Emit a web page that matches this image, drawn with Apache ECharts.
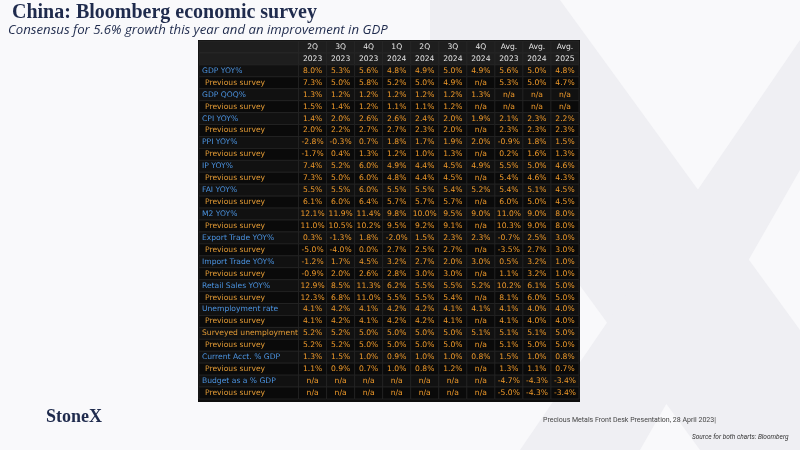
<!DOCTYPE html>
<html><head><meta charset="utf-8">
<script src="https://cdn.jsdelivr.net/npm/echarts@6/dist/echarts.min.js"></script>
<style>html,body{margin:0;padding:0;background:#fff}#c{width:800px;height:450px}</style>
</head><body><div id="c"></div>
<script>
const colTop = ['2Q','3Q','4Q','1Q','2Q','3Q','4Q','Avg.','Avg.','Avg.'];
const colBottom = ['2023','2023','2023','2024','2024','2024','2024','2023','2024','2025'];
const rowLabels = ['GDP YOY%','Previous survey','GDP QOQ%','Previous survey','CPI YOY%','Previous survey','PPI YOY%','Previous survey','IP YOY%','Previous survey','FAI YOY%','Previous survey','M2 YOY%','Previous survey','Export Trade YOY%','Previous survey','Import Trade YOY%','Previous survey','Retail Sales YOY%','Previous survey','Unemployment rate','Previous survey','Surveyed unemployment','Previous survey','Current Acct. % GDP','Previous survey','Budget as a % GDP','Previous survey'];
const values = [
['8.0%','5.3%','5.6%','4.8%','4.9%','5.0%','4.9%','5.6%','5.0%','4.8%'],
['7.3%','5.0%','5.8%','5.2%','5.0%','4.9%','n/a','5.3%','5.0%','4.7%'],
['1.3%','1.2%','1.2%','1.2%','1.2%','1.2%','1.3%','n/a','n/a','n/a'],
['1.5%','1.4%','1.2%','1.1%','1.1%','1.2%','n/a','n/a','n/a','n/a'],
['1.4%','2.0%','2.6%','2.6%','2.4%','2.0%','1.9%','2.1%','2.3%','2.2%'],
['2.0%','2.2%','2.7%','2.7%','2.3%','2.0%','n/a','2.3%','2.3%','2.3%'],
['-2.8%','-0.3%','0.7%','1.8%','1.7%','1.9%','2.0%','-0.9%','1.8%','1.5%'],
['-1.7%','0.4%','1.3%','1.2%','1.0%','1.3%','n/a','0.2%','1.6%','1.3%'],
['7.4%','5.2%','6.0%','4.9%','4.4%','4.5%','4.9%','5.5%','5.0%','4.6%'],
['7.3%','5.0%','6.0%','4.8%','4.4%','4.5%','n/a','5.4%','4.6%','4.3%'],
['5.5%','5.5%','6.0%','5.5%','5.5%','5.4%','5.2%','5.4%','5.1%','4.5%'],
['6.1%','6.0%','6.4%','5.7%','5.7%','5.7%','n/a','6.0%','5.0%','4.5%'],
['12.1%','11.9%','11.4%','9.8%','10.0%','9.5%','9.0%','11.0%','9.0%','8.0%'],
['11.0%','10.5%','10.2%','9.5%','9.2%','9.1%','n/a','10.3%','9.0%','8.0%'],
['0.3%','-1.3%','1.8%','-2.0%','1.5%','2.3%','2.3%','-0.7%','2.5%','3.0%'],
['-5.0%','-4.0%','0.0%','2.7%','2.5%','2.7%','n/a','-3.5%','2.7%','3.0%'],
['-1.2%','1.7%','4.5%','3.2%','2.7%','2.0%','3.0%','0.5%','3.2%','1.0%'],
['-0.9%','2.0%','2.6%','2.8%','3.0%','3.0%','n/a','1.1%','3.2%','1.0%'],
['12.9%','8.5%','11.3%','6.2%','5.5%','5.5%','5.2%','10.2%','6.1%','5.0%'],
['12.3%','6.8%','11.0%','5.5%','5.5%','5.4%','n/a','8.1%','6.0%','5.0%'],
['4.1%','4.2%','4.1%','4.2%','4.2%','4.1%','4.1%','4.1%','4.0%','4.0%'],
['4.1%','4.2%','4.1%','4.2%','4.2%','4.1%','n/a','4.1%','4.0%','4.0%'],
['5.2%','5.2%','5.0%','5.0%','5.0%','5.0%','5.1%','5.1%','5.1%','5.0%'],
['5.2%','5.2%','5.0%','5.0%','5.0%','5.0%','n/a','5.1%','5.0%','5.0%'],
['1.3%','1.5%','1.0%','0.9%','1.0%','1.0%','0.8%','1.5%','1.0%','0.8%'],
['1.1%','0.9%','0.7%','1.0%','0.8%','1.2%','n/a','1.3%','1.1%','0.7%'],
['n/a','n/a','n/a','n/a','n/a','n/a','n/a','-4.7%','-4.3%','-3.4%'],
['n/a','n/a','n/a','n/a','n/a','n/a','n/a','-5.0%','-4.3%','-3.4%']
];
const LABEL_W = 3.55;
const cells = [];
for (let c = 0; c < colTop.length; c++) {
  cells.push([c, 0, colTop[c], 'h']);
  cells.push([c, 1, colBottom[c], 'h']);
}
cells.push([-1, 0, '', 'h']); cells.push([-1, 1, '', 'h']);
for (let r = 0; r < rowLabels.length; r++) {
  const lab = rowLabels[r];
  const t = lab === 'Previous survey' ? 'lp' : (lab === 'Surveyed unemployment' ? 'lo' : 'lb');
  cells.push([-1, r + 2, lab, t]);
  for (let c = 0; c < 10; c++) cells.push([c, r + 2, values[r][c], 'v']);
}
const chart = echarts.init(document.getElementById('c'));
const navy = '#1f2b4d';
chart.setOption({
  backgroundColor: '#f9f9fb',
  animation: false,
  graphic: [
    {type:'polygon', silent:true, z:-10, shape:{points:[[430,0],[560,0],[800,330],[800,450],[700,450],[430,80]]}, style:{fill:'#efeff3'}},
    {type:'polygon', silent:true, z:-10, shape:{points:[[800,40],[800,170],[640,450],[520,450]]}, style:{fill:'#efeff3'}},
    {type:'rect', z:-5, shape:{x:198,y:40,width:382,height:362}, style:{fill:'#0d0d0d'}},
    {type:'text', left:12, top:3, style:{text:'China: Bloomberg economic survey', font:'bold 20px "Liberation Serif"', fill:navy}},
    {type:'text', left:8, top:24, style:{text:'Consensus for 5.6% growth this year and an improvement in GDP', font:'italic 13.2px "Open Sans"', fill:navy}},
    {type:'text', left:46, top:408, style:{text:'StoneX', font:'bold 18px "Liberation Serif"', fill:navy}},
    {type:'text', left:543, top:417, style:{text:'Precious Metals Front Desk Presentation, 28 April 2023|', font:'7px Roboto', fill:'#444'}},
    {type:'text', left:692, top:434, style:{text:'Source for both charts: Bloomberg', font:'italic 6.5px Roboto', fill:'#333'}}
  ],
  grid: {left:199, top:41, width:380, height:358},
  xAxis: {type:'value', min:-LABEL_W, max:10, show:false},
  yAxis: {type:'value', min:0, max:30, inverse:true, show:false},
  series: [{
    type:'custom',
    data: cells,
    renderItem: function (params, api) {
      const c = api.value(0), r = api.value(1);
      const x0 = c < 0 ? -LABEL_W : c, x1 = c < 0 ? 0 : c + 1;
      const p0 = api.coord([x0, r]), p1 = api.coord([x1, r + 1]);
      const item = cells[params.dataIndex];
      const kind = item[3], text = item[2];
      const w = p1[0] - p0[0], h = p1[1] - p0[1];
      let fill = kind === 'h' ? '#1e1e1e' : (r % 2 === 0 ? '#111111' : '#0a0a0a');
      let color = '#f09a2a';
      if (kind === 'h') color = '#e6e6e6';
      if (kind === 'lb') color = '#4b93e0';
      if (kind === 'lp' || kind === 'lo') color = '#e29a35';
      const isLabel = kind[0] === 'l';
      return {type:'group', children:[
        {type:'rect', shape:{x:p0[0], y:p0[1], width:w, height:h}, style:{fill:fill, stroke:'#2b2b2b', lineWidth:0.6}},
        {type:'text', style:{
          text:text,
          x: isLabel ? p0[0] + (kind === 'lp' ? 6 : 3) : p0[0] + w / 2,
          y: p0[1] + h / 2,
          align: isLabel ? 'left' : 'center', verticalAlign:'middle',
          font: '7.6px "DejaVu Sans"', fill: color
        }}
      ]};
    }
  }]
});
</script></body></html>
